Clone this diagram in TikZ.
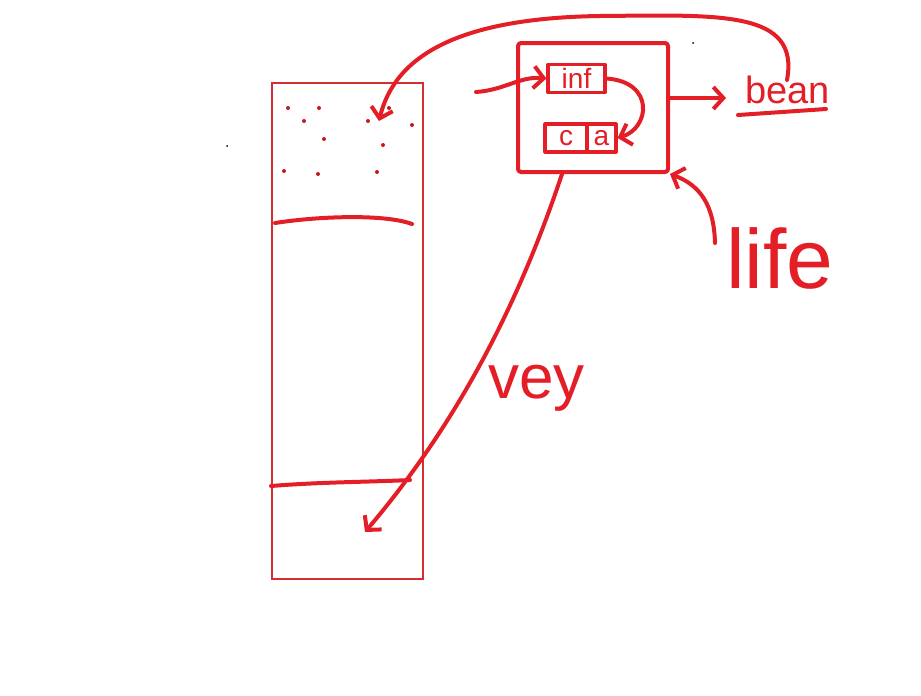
\documentclass[tikz,border=0pt]{standalone}
\usepackage{fontspec}
\setmainfont{Liberation Sans}
\usetikzlibrary{arrows.meta}
\definecolor{ink}{RGB}{228,30,38}
\definecolor{thinink}{RGB}{212,46,52}

\begin{document}
\begin{tikzpicture}[x=1pt, y=-1pt,
  pen/.style={draw=ink, line width=4pt, line cap=round, line join=round},
  arrow/.style={pen, -{Straight Barb[length=10pt, width=22pt]}},
  word/.style={text=ink, inner sep=0pt, anchor=base west},
  cell/.style={pen, line width=3.2pt, minimum height=28pt, inner sep=0pt, text=ink}
]
  \useasboundingbox (0,0) rectangle (921,696);

  % Memory column
  \node[draw=thinink, line width=1.5pt, minimum width=151pt, minimum height=496pt,
        inner sep=0pt] (column) at (347.5,331) {};
  \draw[pen] (275,223) .. controls (320,216) and (385,214) .. (412,224);
  \draw[pen] (271,486) .. controls (320,482) and (370,482) .. (410,480);

  % Scattered grains in the top part
  \foreach \x/\y in {288/108, 319/108, 304/121, 324/139, 389/108, 368/121,
                     412/125, 383/145, 284/171, 318/174, 377/172}
    \fill[ink!85!black] (\x,\y) circle (2pt);
  \fill[black] (227,146) circle (1pt);
  \fill[black] (693,43) circle (1pt);

  % Object box
  \node[pen, rounded corners=3pt, minimum width=150pt, minimum height=129pt,
        inner sep=0pt] (obj) at (593,107.5) {};
  \node[cell, minimum width=57pt, font=\fontsize{28}{28}\selectfont] (inf) at (576.5,78.5) {inf};
  \node[cell, minimum width=42pt, font=\fontsize{28}{28}\selectfont] (cc) at (566,138) {c};
  \node[cell, minimum width=29pt, font=\fontsize{28}{28}\selectfont] (ca) at (601.5,138) {a};

  % Labels
  \node[word, font=\fontsize{38}{38}\selectfont] (bean) at (745,103) {bean};
  \draw[pen] (738,115) -- (826,109);
  \node[word, font=\fontsize{84}{84}\selectfont] (life) at (726,288) {life};
  \node[word, font=\fontsize{62}{62}\selectfont] (vey) at (488,398) {vey};

  % Arrows
  \coordinate (feed) at (476,92);
  \coordinate (beanin) at (726,98);
  \coordinate (lifein) at (715,243);
  \coordinate (topstart) at (787,80);
  \coordinate (drop) at (379,121);
  \coordinate (sink) at (365,532);

  \draw[arrow] (feed) .. controls (505,90) and (520,76) .. (inf.west);
  \draw[arrow] (inf.east) .. controls (655,82) and (650,128) .. (ca.east);
  \draw[arrow] (obj.east |- beanin) -- (beanin);
  \draw[arrow] (lifein) .. controls (714,205) and (700,185) .. (obj.south east);
  \draw[arrow] (topstart) .. controls (800,10) and (720,15) .. (600,16)
               .. controls (460,18) and (395,55) .. (drop);
  \draw[arrow] (obj.south west -| 562,0) .. controls (520,300) and (460,420) .. (sink);
\end{tikzpicture}
\end{document}
